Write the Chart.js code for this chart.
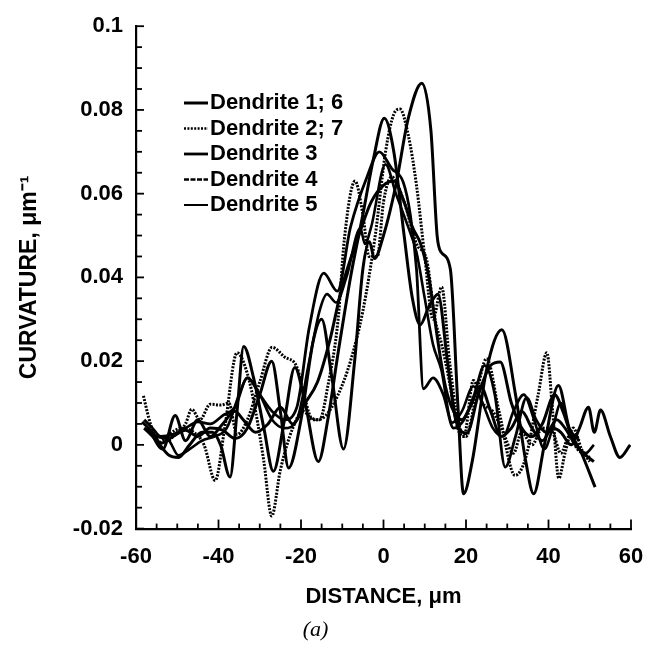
<!DOCTYPE html>
<html><head><meta charset="utf-8">
<script src="https://cdn.jsdelivr.net/npm/chart.js@4.4.1/dist/chart.umd.min.js"></script>
<style>html,body{margin:0;padding:0;background:#fff}#wrap{width:662px;height:651px;position:relative}</style>
</head><body><div id="wrap"><canvas id="c"></canvas></div>
<script>
// ---- data (distance in µm, curvature in µm^-1) ----
const xTickLabels = [-60, -40, -20, 0, 20, 40, 60];
const yTickLabels = [-0.02, 0, 0.02, 0.04, 0.06, 0.08, 0.1];
const legendLabels = ["Dendrite 1; 6", "Dendrite 2; 7", "Dendrite 3", "Dendrite 4", "Dendrite 5"];

const d1x = [-58.5,-56,-54,-51,-48,-45,-42,-39,-36,-33,-30,-27.1,-25,-23,-20,-17,-15,-12.5,-9.7,-7,-5,-3.4,-2.2,0,3,6,9.3,11.5,13,14,16.2,18,19.4,21.5,25,28.7,32,34.5,36.4,39,42.4,45,48,51.3];
const d1y = [0.0055,0.003,0.0004,0.002,0.0035,0.002,0.004,0.0035,0.0015,0.004,0.012,0.020,0.008,-0.0055,0.006,0.025,0.030,0.016,-0.001,0.02,0.042,0.0485,0.0445,0.05,0.062,0.078,0.0864,0.075,0.05,0.046,0.042,0.01,-0.0117,-0.004,0.018,0.0275,0.012,-0.004,-0.0117,0.0,0.0142,0.004,-0.002,-0.0101];

const d2x = [-58.2,-56.5,-54.5,-52,-49,-46,-43.5,-40.8,-38.5,-35.5,-33,-31,-29,-27.1,-25,-22,-19.5,-17,-14,-11,-8,-5,-2,0.5,2.5,4,6,8,10,12,14.1,16,18,20,22.5,25,28,31.9,34.5,37.5,39.6,41,42.5,44,46,48,50];
const d2y = [0.0117,0.005,0.0005,0.0025,0.004,0.003,0.0,-0.0085,0.004,0.022,0.017,0.008,-0.004,-0.017,-0.006,0.004,0.008,0.006,0.007,0.012,0.02,0.032,0.05,0.07,0.079,0.0802,0.074,0.062,0.045,0.03,0.0377,0.02,0.006,0.002,0.012,0.0206,0.008,-0.0073,-0.003,0.012,0.022,0.008,-0.008,-0.002,0.004,-0.001,-0.004];

const d3x = [-58,-55,-52,-49.7,-47,-44,-41.5,-39.5,-37.2,-35.5,-33.9,-31.5,-29,-26.7,-24,-21.5,-19,-15.8,-13.5,-11,-8,-5,-2.5,0.2,2.5,5,7,8.9,11,13.2,15.5,17.5,20.2,23,26,28.3,31,33.5,36,38.5,41.5,43.5,46,48.5,51];
const d3y = [0.004,0.001,-0.0025,-0.003,0.0,0.003,0.003,0.0,-0.0077,0.008,0.0235,0.016,0.004,-0.0063,0.006,0.0185,0.01,-0.004,0.006,0.022,0.04,0.055,0.068,0.078,0.07,0.05,0.035,0.0287,0.033,0.036,0.02,0.006,0.0028,0.012,0.019,0.0198,0.01,0.004,0.002,0.005,0.012,0.008,0.001,-0.002,-0.004];

const d4x = [-58,-56,-54,-51,-48,-45,-42,-39,-36,-33,-30,-27,-24,-21,-18,-14.5,-11.2,-8,-4,-1,2,4.8,6.5,8,9.7,12,14.5,17,19.5,22,24.5,27,29.5,32,34.7,37,39.5,42,44,46.5,49,51];
const d4y = [0.006,0.004,0.002,0.0025,0.004,0.0055,0.005,0.007,0.009,0.016,0.012,0.008,0.006,0.009,0.028,0.041,0.0367,0.052,0.064,0.070,0.066,0.0627,0.055,0.042,0.0134,0.016,0.012,0.004,0.006,0.012,0.019,0.012,-0.0053,0.002,0.0113,0.006,0.003,0.006,0.004,0.0,-0.002,0.0];

const d5x = [-58,-55,-52,-49.7,-47,-44,-41,-38,-35,-33,-30,-27,-24,-21,-18,-15.5,-13.7,-11.5,-9,-5.6,-4.5,-3,0.5,3,6,8,10,12,14,16.6,19,21.8,24,26.5,29,31.5,34,36.5,39,41,43,45,47.5];
const d5y = [0.004,0.002,0.001,-0.0025,-0.001,0.001,0.002,0.004,0.012,0.016,0.012,0.006,0.004,0.006,0.02,0.032,0.036,0.034,0.04,0.0517,0.048,0.052,0.067,0.06,0.052,0.046,0.035,0.024,0.018,0.0053,0.008,0.014,0.010,0.004,0.002,0.008,0.012,0.006,-0.001,0.004,0.010,0.004,0.001];

const d6x = [-57,-53.5,-50.5,-48,-45,-42,-39,-36,-34,-31,-28,-25,-22,-19,-16,-13,-10,-6,-3,0,2.5,5,7,9,11,13,15,17,19,21,23.5,26,28.5,31,33.5,36,38.5,41,43,45.5,47.5,49.7,51.1,52.6,55,57.3,59.8];
const d6y = [0.004,-0.001,0.007,0.001,0.006,0.002,0.005,0.008,0.006,0.003,0.005,0.009,0.005,0.01,0.015,0.025,0.038,0.05,0.058,0.062,0.063,0.058,0.052,0.048,0.04,0.026,0.014,0.008,0.006,0.009,0.014,0.008,0.002,0.004,0.008,0.004,0.001,0.004,0.003,0.0,0.004,0.009,0.003,0.0083,0.002,-0.003,0.0];

const d7x = [-52,-50,-48,-46.5,-44.5,-42,-39.5,-37.5,-35.5,-33,-30,-27,-24,-21,-19.5,-17.5,-15.5,-13.5,-11,-9.5,-6.9,-5,-3.5,-1.5,0,2,5,8,10.5,12.5,14.1,16,18,19.5,21.8,24,26.5,29,31.5,33.5,36,38.5,41,43,45,47,50];
const d7y = [0.001,0.003,0.005,0.0085,0.006,0.0097,0.0095,0.01,0.0025,0.006,0.015,0.0233,0.021,0.0186,0.013,0.0065,0.006,0.014,0.03,0.049,0.063,0.055,0.045,0.045,0.058,0.064,0.058,0.048,0.044,0.03,0.024,0.015,0.004,0.002,0.0154,0.01,0.008,0.003,-0.002,0.003,0.0,0.004,0.003,-0.002,0.002,-0.001,-0.003];

// ---- build ----
const FONT = '"Liberation Sans", Arial, Helvetica, sans-serif';
function pts(xs, ys){ return xs.map((x,i)=>({x:x, y:ys[i]})); }
function series(label, xs, ys, dotted, w){
  return { label, data: pts(xs, ys), borderColor:'#000', backgroundColor:'#000',
    borderWidth: w, borderDash: dotted ? [2,1.4] : [], pointRadius:0,
    cubicInterpolationMode:'monotone', fill:false, borderCapStyle:'butt', borderJoinStyle:'round' };
}
const datasets = [
  series('Dendrite 1', d1x, d1y, false, 3),
  series('Dendrite 2', d2x, d2y, true, 3),
  series('Dendrite 3', d3x, d3y, false, 3),
  series('Dendrite 4', d4x, d4y, false, 2.8),
  series('Dendrite 5', d5x, d5y, false, 2.6),
  series('Dendrite 6', d6x, d6y, false, 3),
  series('Dendrite 7', d7x, d7y, true, 3)
];
const legendStyles = [ {dash:[], w:3}, {dash:[2,1.4], w:2.6}, {dash:[], w:2.8}, {dash:[5,1.5], w:2.4}, {dash:[], w:2} ];

const inwardTicks = {
  id:'inwardTicks',
  afterDraw(chart){
    const {ctx, chartArea:a, scales:{x, y}} = chart;
    ctx.save(); ctx.strokeStyle='#000'; ctx.lineWidth=1.8; ctx.setLineDash([]);
    const xMin = xTickLabels[0], xMax = xTickLabels[xTickLabels.length-1];
    for (let v = xMin; v <= xMax; v += 5){
      const px = x.getPixelForValue(v);
      const len = (v % 20 === 0) ? 9 : 5;
      ctx.beginPath(); ctx.moveTo(px, a.bottom); ctx.lineTo(px, a.bottom - len); ctx.stroke();
    }
    const yMin = yTickLabels[0];
    for (let i = 0; i <= 24; i++){
      const v = yMin + i*0.005;
      const py = y.getPixelForValue(v);
      const len = (i % 4 === 0) ? 8 : 6;
      ctx.beginPath(); ctx.moveTo(a.left, py); ctx.lineTo(a.left + len, py); ctx.stroke();
    }
    ctx.restore();
  }
};
const plotLegend = {
  id:'plotLegend',
  afterDraw(chart){
    const ctx = chart.ctx;
    ctx.save();
    ctx.font = 'bold 22px ' + FONT; ctx.fillStyle='#000'; ctx.textBaseline='middle'; ctx.textAlign='left';
    legendLabels.forEach((t,i)=>{
      const yy = 103 + i*25.5;
      ctx.strokeStyle='#000'; ctx.lineWidth=legendStyles[i].w; ctx.setLineDash(legendStyles[i].dash);
      ctx.beginPath(); ctx.moveTo(184, yy); ctx.lineTo(208, yy); ctx.stroke();
      ctx.setLineDash([]);
      ctx.fillText(t, 210, yy);
    });
    ctx.restore();
  }
};

new Chart(document.getElementById('c'), {
  type:'line',
  data:{ datasets },
  options:{
    responsive:true, maintainAspectRatio:false, animation:false,
    layout:{ padding:{ left:0, right:31, top:19, bottom:0 } },
    plugins:{
      legend:{ display:false }, tooltip:{ enabled:false },
      title:{ display:true, position:'bottom', text:'(a)', color:'#000',
        font:{ family:'"Liberation Serif", "Times New Roman", serif', size:22, style:'italic', weight:'normal' },
        padding:{ top:0, bottom:8 } }
    },
    scales:{
      x:{ type:'linear', min:xTickLabels[0], max:xTickLabels[xTickLabels.length-1],
        afterFit(s){ s.height = 88; },
        afterBuildTicks(s){ s.ticks = xTickLabels.map(v=>({value:v})); },
        grid:{ display:false, drawTicks:false },
        border:{ display:true, color:'#000', width:2.2 },
        ticks:{ color:'#000', padding:15, font:{ family:FONT, size:22, weight:'bold' }, maxRotation:0,
          callback:(v)=>String(v) },
        title:{ display:true, text:'DISTANCE, μm', color:'#000', padding:{ top:0, bottom:6 },
          font:{ family:FONT, size:22, weight:'bold' } }
      },
      y:{ type:'linear', min:yTickLabels[0], max:yTickLabels[yTickLabels.length-1],
        afterFit(s){ s.width = 136; },
        afterBuildTicks(s){ s.ticks = yTickLabels.map(v=>({value:v})); },
        grid:{ display:false, drawTicks:false },
        border:{ display:true, color:'#000', width:2.2 },
        ticks:{ color:'#000', padding:13, font:{ family:FONT, size:22, weight:'bold' },
          callback:(v)=>String(Math.round(v*1000)/1000) },
        title:{ display:true, text:'CURVATURE, μm⁻¹', color:'#000', padding:{ top:16, bottom:0 },
          font:{ family:FONT, size:23, weight:'bold' } }
      }
    }
  },
  plugins:[inwardTicks, plotLegend]
});
</script>
</body></html>
